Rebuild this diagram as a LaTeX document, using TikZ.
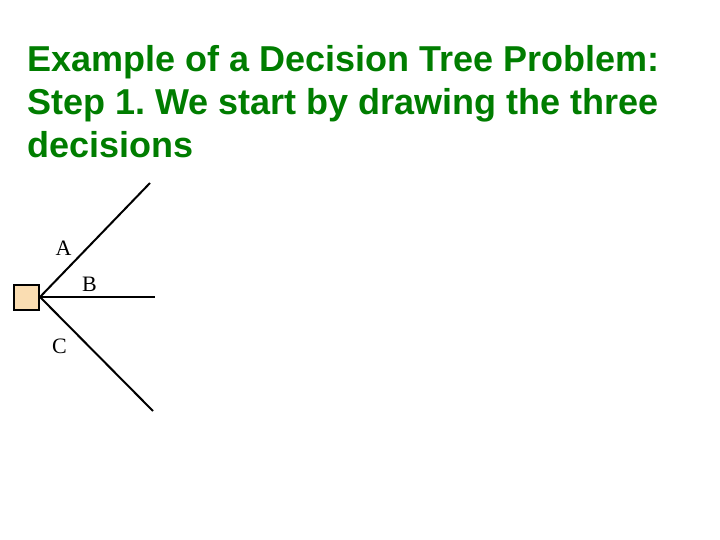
\documentclass[tikz,border=0pt]{standalone}
\usepackage{fontspec}
\setmainfont{Liberation Serif}
\setsansfont{Liberation Sans}
\frenchspacing
\definecolor{titlegreen}{RGB}{0,125,0}
\definecolor{decisionfill}{RGB}{250,221,178}
\newcommand\colorTitle{titlegreen}
\newcommand\colorDecision{decisionfill}
\newcommand\colorBranch{black}
\newcommand\titleX{27}
\newcommand\titleSkip{43}
\newcommand\decisionSize{25pt}
\tikzset{
	titleline/.style={anchor=base west, inner sep=0pt, text=\colorTitle,
		font=\fontsize{36}{43}\selectfont\sffamily\bfseries},
	decision/.style={draw, line width=2pt, fill=\colorDecision,
		minimum size=\decisionSize, inner sep=0pt},
	branch/.style={draw=\colorBranch, line width=2pt},
	branchlabel/.style={inner sep=0pt, font=\fontsize{22}{26}\selectfont}
}

\begin{document}
\begin{tikzpicture}[x=1pt, y=-1pt]
		\useasboundingbox (0,0) rectangle (720,540);
		
		\node[titleline] (title1) at (\titleX, 72) {Example of a Decision Tree Problem:};
		\node[titleline] (title2) at (\titleX, 72+\titleSkip) {Step 1. We start by drawing the three};
		\node[titleline] (title3) at (\titleX, 72+2*\titleSkip) {decisions};
		
		\node[decision] (root) at (26.5,297) {};
		\coordinate (endA) at (150,183);
		\coordinate (endB) at (155,297);
		\coordinate (endC) at (153,411);
		
		\draw[branch] (root.east) to (endA);
		\draw[branch] (root.east) to (endB);
		\draw[branch] (root.east) to (endC);
		
		\node[branchlabel] (labelA) at (63.5,248) {A};
		\node[branchlabel] (labelB) at (89.5,284) {B};
		\node[branchlabel] (labelC) at (59.5,346.5) {C};
	\end{tikzpicture}
\end{document}
